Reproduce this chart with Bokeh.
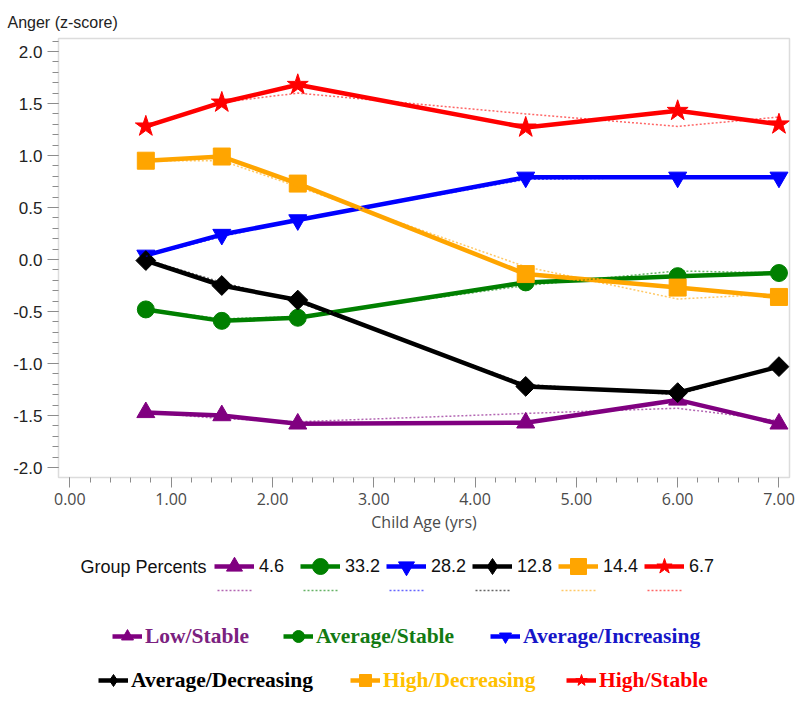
import math
from bokeh.plotting import figure
from bokeh.layouts import column
from bokeh.models import (Range1d, SingleIntervalTicker, NumeralTickFormatter,
                          Label, Legend, LegendItem, Title)
from bokeh.embed import file_html
from bokeh.resources import INLINE

# ---- data ----
ages = [0.75, 1.5, 2.25, 4.5, 6.0, 7.0]

low_stable = [-1.47, -1.50, -1.58, -1.57, -1.35, -1.58]
low_stable_fit = [-1.47, -1.53, -1.56, -1.48, -1.43, -1.55]
avg_stable = [-0.48, -0.59, -0.56, -0.22, -0.16, -0.13]
avg_stable_fit = [-0.48, -0.57, -0.55, -0.25, -0.11, -0.13]
avg_increasing = [0.04, 0.24, 0.38, 0.79, 0.79, 0.79]
avg_increasing_fit = [0.03, 0.22, 0.38, 0.77, 0.79, 0.78]
avg_decreasing = [-0.01, -0.25, -0.39, -1.22, -1.28, -1.03]
avg_decreasing_fit = [0.0, -0.22, -0.41, -1.20, -1.30, -1.03]
high_decreasing = [0.95, 0.99, 0.73, -0.14, -0.27, -0.36]
high_decreasing_fit = [0.95, 0.95, 0.70, -0.07, -0.38, -0.33]
high_stable = [1.28, 1.51, 1.68, 1.27, 1.43, 1.30]
high_stable_fit = [1.27, 1.51, 1.60, 1.40, 1.28, 1.37]

group_names = ["Low/Stable", "Average/Stable", "Average/Increasing",
               "Average/Decreasing", "High/Decreasing", "High/Stable"]
group_percents = ["4.6", "33.2", "28.2", "12.8", "14.4", "6.7"]

observed = [low_stable, avg_stable, avg_increasing, avg_decreasing, high_decreasing, high_stable]
fitted = [low_stable_fit, avg_stable_fit, avg_increasing_fit, avg_decreasing_fit,
          high_decreasing_fit, high_stable_fit]

# ---- styles ----
colors = ["#800080", "#008000", "#0000FF", "#000000", "#FFA500", "#FF0000"]
text_colors = ["#7B2180", "#137A13", "#1616C8", "#000000", "#FFC000", "#FF0000"]
markers = ["triangle", "circle", "inverted_triangle", "square", "square", "star"]
marker_angles = [0, 0, 0, math.pi / 4, 0, 0]
marker_sizes = [18, 17, 18, 14, 17, 22]
legend_markers = ["triangle", "circle", "inverted_triangle", "diamond", "square", "star"]

# ================= main chart =================
p = figure(width=800, height=550, output_backend="svg", toolbar_location=None,
           x_range=Range1d(-0.112, 7.104), y_range=Range1d(-2.096, 2.125),
           min_border_left=58, min_border_right=11, min_border_top=38,
           min_border_bottom=73)
p.xgrid.visible = False
p.ygrid.visible = False
p.outline_line_color = "#dcdcdc"
p.outline_line_width = 1.5

p.xaxis.ticker = SingleIntervalTicker(interval=1, num_minor_ticks=5)
p.yaxis.ticker = SingleIntervalTicker(interval=0.5, num_minor_ticks=5)
p.xaxis.formatter = NumeralTickFormatter(format="0.00")
p.yaxis.formatter = NumeralTickFormatter(format="0.0")
for ax in (p.xaxis[0], p.yaxis[0]):
    ax.axis_line_color = None
    ax.major_tick_in = 0
    ax.minor_tick_in = 0
    ax.major_tick_line_color = "#8c8c8c"
    ax.minor_tick_line_color = "#8c8c8c"
p.xaxis.major_tick_out = 10
p.xaxis.minor_tick_out = 5
p.yaxis.major_tick_out = 11
p.yaxis.minor_tick_out = 6
p.xaxis.major_label_text_font = "Open Sans"
p.xaxis.major_label_text_font_size = "16px"
p.xaxis.major_label_text_color = "#4a4a4a"
p.xaxis.axis_label = "Child Age (yrs)"
p.xaxis.axis_label_text_font = "Open Sans"
p.xaxis.axis_label_text_font_size = "16px"
p.xaxis.axis_label_text_font_style = "normal"
p.xaxis.axis_label_text_color = "#4a4a4a"
p.xaxis.axis_label_standoff = 3
p.yaxis.major_label_text_font = "Liberation Sans"
p.yaxis.major_label_text_font_size = "17px"
p.yaxis.major_label_text_color = "#222222"
p.yaxis.major_label_standoff = 5

p.add_layout(Title(text="Anger (z-score)", align="left", offset=-51, standoff=15,
                   text_font="Liberation Sans", text_font_size="16px",
                   text_font_style="normal", text_color="#222222"), "above")

for i in range(6):
    p.line(ages, observed[i], line_color=colors[i], line_width=4.5)
    p.scatter(ages, observed[i], marker=markers[i], size=marker_sizes[i],
              angle=marker_angles[i], fill_color=colors[i], line_color=colors[i])
for i in range(6):
    p.line(ages, fitted[i], line_color=colors[i], line_width=1.5,
           line_dash="2 2", line_alpha=0.6)

# ================= legend area =================
# (frame of this figure is aligned with the chart frame, which starts at x=58)
lg = figure(width=800, height=151, output_backend="svg", toolbar_location=None,
            x_axis_type=None, y_axis_type=None,
            x_range=Range1d(0, 1), y_range=Range1d(0, 1),
            min_border_left=0, min_border_right=0, min_border_top=0, min_border_bottom=0)
lg.xgrid.visible = False
lg.ygrid.visible = False
lg.outline_line_color = None

line_r, fit_r, mark_r = [], [], []
for i in range(6):
    line_r.append(lg.line(ages, observed[i], line_color=colors[i], line_width=4.5, visible=False))
    mark_r.append(lg.scatter(ages, observed[i], marker=legend_markers[i], size=marker_sizes[i],
                             fill_color=colors[i], line_color=colors[i], visible=False))
    fit_r.append(lg.line(ages, fitted[i], line_color=colors[i], line_width=1.5,
                         line_dash="2 2", line_alpha=0.6, visible=False))

X0 = 58
lg.add_layout(Label(x=80 - X0, y=135, x_units="screen", y_units="screen",
                    text="Group Percents", text_font="Liberation Sans",
                    text_font_size="18px", text_color="#111111", text_baseline="middle"))

common = dict(orientation="horizontal", padding=0, margin=0, border_line_color=None,
              background_fill_alpha=0, click_policy="none", inactive_fill_alpha=0)

legA = Legend(items=[LegendItem(label=group_percents[i],
                                renderers=[line_r[i], mark_r[i]]) for i in range(6)],
              location=(214 - X0, 110), glyph_width=40, glyph_height=50, label_height=50,
              label_width=36, label_standoff=5, spacing=5,
              label_text_font="Liberation Sans", label_text_font_size="18px",
              label_text_color="#111111", **common)
lg.add_layout(legA)

legB = Legend(items=[LegendItem(label=" ", renderers=[fit_r[i]]) for i in range(6)],
              location=(217 - X0, 107), glyph_width=36, glyph_height=8, label_height=8,
              label_width=45, label_standoff=0, spacing=5,
              label_text_font_size="1px", **common)
lg.add_layout(legB)

legC_pos = [(112, 50), (283, 50), (490, 50), (98, 6), (350, 6), (566, 6)]
for i in range(6):
    lgi = Legend(items=[LegendItem(label=group_names[i],
                                   renderers=[line_r[i], mark_r[i]])],
                 location=(legC_pos[i][0] - X0, legC_pos[i][1]),
                 glyph_width=30, glyph_height=30, label_height=30,
                 label_standoff=3, label_text_font="Liberation Serif",
                 label_text_font_style="bold", label_text_font_size="21.5px",
                 label_text_color=text_colors[i], **common)
    lg.add_layout(lgi)

layout = column(p, lg, spacing=0)
open("out.html", "w").write(file_html(layout, INLINE))
